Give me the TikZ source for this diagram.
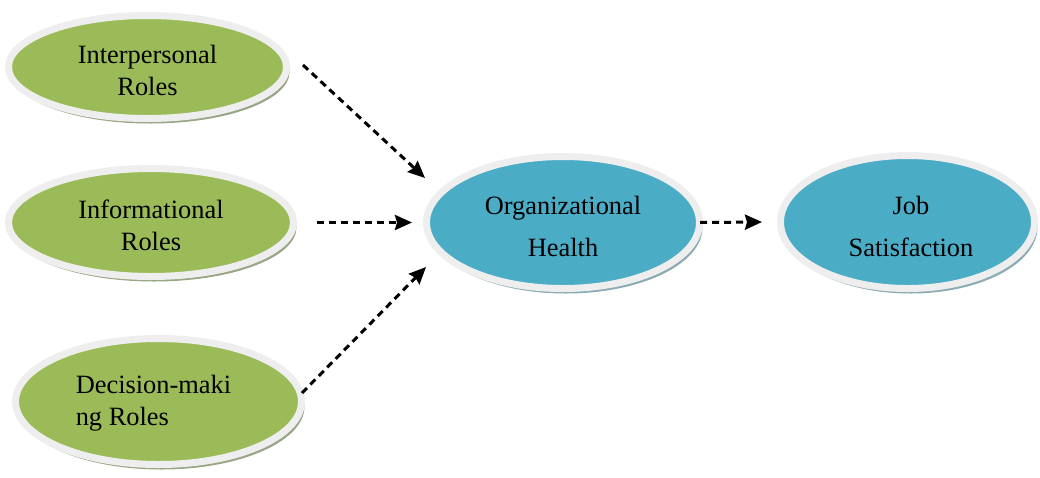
\documentclass[tikz,border=0pt]{standalone}
\usepackage{fontspec}
\setmainfont{Liberation Serif}
\usetikzlibrary{shapes.geometric,shadows,arrows.meta}
\definecolor{greenfill}{HTML}{9BBB59}
\definecolor{bluefill}{HTML}{4BACC6}
\definecolor{rimgray}{HTML}{EEEEEE}
\definecolor{greenshadow}{HTML}{8E9C78}
\definecolor{blueshadow}{HTML}{7EA2AC}
\tikzset{
  bubble/.style={ellipse, inner sep=0pt, draw=rimgray, line width=7pt},
  greenbubble/.style={bubble, fill=greenfill,
    drop shadow={shadow xshift=3pt, shadow yshift=-5pt, fill=greenshadow, opacity=0.9}},
  bluebubble/.style={bubble, fill=bluefill,
    drop shadow={shadow xshift=3pt, shadow yshift=-5pt, fill=blueshadow, opacity=0.9}},
  gtext/.style={align=center, font=\fontsize{26.4}{32}\selectfont, text=black},
  btext/.style={align=center, font=\fontsize{26.4}{42}\selectfont, text=black},
  arr/.style={line width=3pt, dash pattern=on 7pt off 5pt,
    -{Stealth[length=17pt,width=15pt,inset=2pt]}}
}
\begin{document}
\begin{tikzpicture}[x=1pt,y=-1pt]
\useasboundingbox (0,0) rectangle (1040,477);
\node[greenbubble, minimum width=278pt, minimum height=103pt,
  label={[gtext, yshift=-3pt]center:Interpersonal\\Roles}] (a) at (147.5,67) {};
\node[greenbubble, minimum width=285pt, minimum height=108pt,
  label={[gtext, yshift=-3pt]center:Informational\\Roles}] (b) at (151,222.5) {};
\node[greenbubble, minimum width=286pt, minimum height=126pt,
  label={[gtext, align=left, yshift=-2pt, xshift=-5pt]center:Decision-maki\\ng Roles}] (c) at (158.5,401.5) {};
\node[bluebubble, minimum width=273pt, minimum height=132pt,
  label={[btext, yshift=-4pt]center:Organizational\\Health}] (d) at (563,222.5) {};
\node[bluebubble, minimum width=254pt, minimum height=133pt,
  label={[btext, yshift=-4pt, xshift=3.5pt]center:Job\\Satisfaction}] (e) at (907.5,222) {};
\draw[arr] ([shift={(13,-2)}]a.east) -- ([shift={(2,-44.5)}]d.west);
\draw[arr] ([shift={(20,0)}]b.east) -- ([shift={(-11,0)}]d.west);
\draw[arr] ([shift={(-3,-8.5)}]c.east) -- ([shift={(3,44.5)}]d.west);
\draw[arr] ([shift={(-3,0)}]d.east) -- ([shift={(-15,0)}]e.west);
\end{tikzpicture}
\end{document}
